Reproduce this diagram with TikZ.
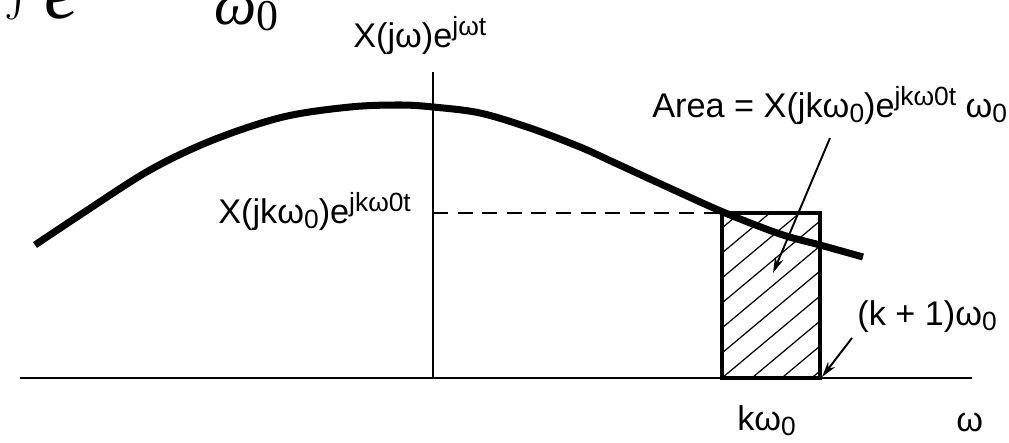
\documentclass[tikz,border=0pt]{standalone}
\usepackage{amsmath}
\usepackage[no-math]{fontspec}
\setmainfont{Liberation Sans}
\newfontfamily\fragfont{Liberation Serif}
\usepackage{graphicx}
\usetikzlibrary{arrows.meta}
\newcommand\lowtxt[1]{\raisebox{-0.32ex}{\fontsize{15}{16}\selectfont #1}}
\newcommand\hightxt[1]{\raisebox{0.62ex}{\fontsize{15}{16}\selectfont #1}}
\begin{document}
\begin{tikzpicture}[x=0.02cm,y=-0.02cm,
  lbl/.style={inner sep=0pt, font=\fontsize{19.5}{22}\selectfont},
  axisline/.style={line width=1.2pt},
  curveline/.style={line width=4pt},
  boxline/.style={line width=2.4pt},
  hatchline/.style={line width=0.7pt},
  ptr/.style={line width=1.1pt, -{Stealth[length=9pt,width=5pt]}},
  dashline/.style={line width=1.2pt, dash pattern=on 8.5pt off 5.5pt}]
\useasboundingbox (0,0) rectangle (1009,443);
% clipped formula at top-left
\begin{scope}
\clip (0,0) rectangle (1009,443);
\node[inner sep=0pt, anchor=base west, font=\fontsize{40}{42}\selectfont] (fint) at (4,7) {$\int$};
\node[inner sep=0pt, anchor=base west, font=\fragfont\itshape\fontsize{44}{46}\selectfont] (fe) at (44,18) {e};
\node[inner sep=0pt, anchor=base west, font=\fragfont\itshape\fontsize{34}{36}\selectfont] (f2) at (214,24) {ω\raisebox{-0.25ex}{\upshape\fontsize{25}{26}\selectfont 0}};
\end{scope}
% axes
\coordinate (xl) at (20,378);
\coordinate (xr) at (972,378);
\coordinate (O) at (433,378);
\coordinate (yt) at (433,72);
\draw[axisline] (xl) -- (xr);
\draw[axisline] (O) -- (yt);
% rectangle and hatching
\coordinate (rbl) at (722,378);
\coordinate (rtr) at (820,213);
\coordinate (rtl) at (722,213);
\coordinate (dv) at (433,213);
\begin{scope}
\clip (rbl) rectangle (rtr);
\foreach \c in {228,253,...,480} {
  \draw[hatchline] (722,\c) -- (820,\c-82);
}
\end{scope}
\draw[dashline] (dv) -- (rtl);
\draw[curveline] plot[smooth, tension=0.55] coordinates {(35,245) (83,213) (150,170) (213,140) (283,117) (350,107) (400,105) (433,107) (480,113) (530,128) (580,147) (613,162) (663,185) (723,212) (780,234) (820,245) (863,257)};
\draw[boxline] (rbl) rectangle (rtr);
% labels
\node[lbl, anchor=base west] (ylab) at (353,47) {X(jω)e\hightxt{jωt}};
\node[lbl, anchor=base west] (vlab) at (218,223) {X(jkω\lowtxt{0})e\hightxt{jkω0t}};
\node[lbl, anchor=base west] (alab) at (652,117) {Area = X(jkω\lowtxt{0})e\hightxt{jkω0t} ω\lowtxt{0}};
\node[lbl, anchor=base west] (klab) at (857,325) {(k + 1)ω\lowtxt{0}};
\node[lbl, anchor=base west] (kw) at (737,430) {kω\lowtxt{0}};
\node[lbl, anchor=base west] (wlab) at (956,431) {ω};
% pointers
\coordinate (a1) at (830,138);
\coordinate (a2) at (773,273);
\coordinate (b1) at (852,338);
\coordinate (b2) at (822,377);
\draw[ptr] (a1) -- (a2);
\draw[ptr] (b1) -- (b2);
\end{tikzpicture}
\end{document}
